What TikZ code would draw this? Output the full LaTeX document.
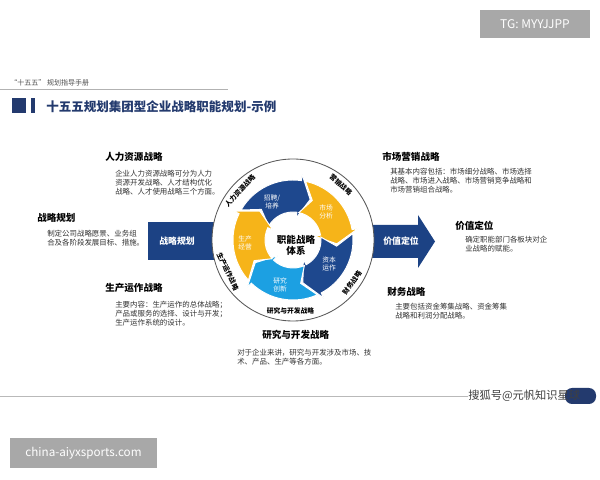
\documentclass[tikz,border=0pt]{standalone}
\usepackage{fontspec}
\setmainfont{Noto Sans CJK SC}
\definecolor{navy}{RGB}{28,66,132}
\definecolor{segblue}{RGB}{30,72,142}
\definecolor{segyellow}{RGB}{246,180,25}
\definecolor{seglight}{RGB}{28,160,226}
\definecolor{titleblue}{RGB}{35,58,110}
\definecolor{markgray}{RGB}{168,168,168}
\begin{document}
\begin{tikzpicture}[x=0.025cm, y=0.025cm,
  bodytxt/.style={anchor=north west, inner sep=0pt, align=left, text=black!80, font=\fontsize{5.3}{6.5}\selectfont},
  headtxt/.style={anchor=west, inner sep=0pt, font=\fontsize{6.8}{8}\selectfont\bfseries},
  ringtxt/.style={inner sep=0pt, font=\fontsize{4.8}{6}\selectfont\bfseries},
  segtxt/.style={inner sep=0pt, align=center, text=white, font=\fontsize{4.8}{5.8}\selectfont},
  blocktxt/.style={inner sep=0pt, text=white, font=\fontsize{6.3}{7}\selectfont\bfseries},
  markbox/.style={fill=markgray, text=white, inner sep=0pt}]
\useasboundingbox[fill=white] (0,0) rectangle (600,480);

\fill[markgray] (480,442) rectangle (590,470);
\node[markbox, font=\fontsize{8.5}{9}\selectfont] (tg) at (535,456) {TG: MYYJJPP};

\node[anchor=west, inner sep=0pt, text=black!70, font=\fontsize{5}{6}\selectfont] (hdr) at (10,397) {“十五五” 规划指导手册};
\draw[gray!60, line width=0.5pt] (0,391) -- (228,391);
\fill[titleblue] (12,367) rectangle (26,382);
\fill[titleblue] (31,367) rectangle (35,382);
\node[anchor=west, inner sep=0pt, text=titleblue, font=\fontsize{8.9}{10}\selectfont\bfseries] (title) at (46,373) {十五五规划集团型企业战略职能规划-示例};

\fill[navy] (148,220) rectangle (240,258);
\fill[navy] (350,222) -- (418,222) -- (418,212) -- (435,238.5) -- (418,265) -- (418,255) -- (350,255) -- cycle;
\node[blocktxt] (plan) at (177,239) {战略规划};
\node[blocktxt] (value) at (401,239) {价值定位};

\begin{scope}[shift={(293,240)}]
\draw[black!65, line width=0.6pt, fill=white] (0,0) circle[radius=81];
\foreach \c/\col in {114/segblue, 42/segyellow, -30/segblue, -102/seglight, -174/segyellow}
  \filldraw[fill=\col, draw=white, line width=0.7pt] (\c+36:60) arc[start angle=\c+36, end angle=\c-32, radius=60]
    -- (\c-32:66) -- (\c-47:44) -- (\c-32:22) -- (\c-32:28)
    arc[start angle=\c-32, end angle=\c+36, radius=28] -- (\c+22:44) -- cycle;
\node[segtxt] (hire) at (-21,38) {招聘/\\培养};
\node[segtxt] (mkt) at (33,28) {市场\\分析};
\node[segtxt] (cap) at (36,-24) {资本\\运作};
\node[segtxt] (rnd) at (-13,-45) {研究\\创新};
\node[segtxt] (prod) at (-48,-3) {生产\\经营};
\node[align=center, inner sep=0pt, font=\fontsize{6.8}{8}\selectfont\bfseries] (core) at (3,-5) {职能战略\\体系};
\node[ringtxt, rotate=47] (rhr) at (137:72.5) {人力资源战略};
\node[ringtxt, rotate=-41] (rmk) at (49:73) {营销战略};
\node[ringtxt, rotate=54] (rfn) at (-36:73) {财务战略};
\node[ringtxt] (rrd) at (-92:71) {研究与开发战略};
\node[ringtxt, rotate=-64] (rpr) at (206:72.5) {生产运作战略};
\end{scope}

\node[headtxt] (hrh) at (105,323) {人力资源战略};
\node[bodytxt] (hrb) at (115,310.5) {企业人力资源战略可分为人力\\资源开发战略、人才结构优化\\战略、人才使用战略三个方面。};
\node[headtxt] (mkh) at (382,323) {市场营销战略};
\node[bodytxt] (mkb) at (390,312.5) {其基本内容包括：市场细分战略、市场选择\\战略、市场进入战略、市场营销竞争战略和\\市场营销组合战略。};
\node[headtxt] (plh) at (37,262) {战略规划};
\node[bodytxt] (plb) at (47,250.5) {制定公司战略愿景、业务组\\合及各阶段发展目标、措施。};
\node[headtxt] (vah) at (455,254) {价值定位};
\node[bodytxt] (vab) at (465,244.5) {确定职能部门各板块对企\\业战略的赋能。};
\node[headtxt] (prh) at (105,192) {生产运作战略};
\node[bodytxt] (prb) at (115,179.5) {主要内容：生产运作的总体战略；\\产品或服务的选择、设计与开发；\\生产运作系统的设计。};
\node[headtxt] (fnh) at (387,188) {财务战略};
\node[bodytxt] (fnb) at (395,177.5) {主要包括资金筹集战略、资金筹集\\战略和利润分配战略。};
\node[headtxt] (rdh) at (262,145) {研究与开发战略};
\node[bodytxt] (rdb) at (237,131.5) {对于企业来讲，研究与开发涉及市场、技\\术、产品、生产等各方面。};

\draw[gray!55, line width=0.6pt] (0,84) -- (468,84);
\fill[titleblue, rounded corners=5pt] (565,76) rectangle (596,92);
\node[anchor=west, inner sep=0pt, text=black!75, font=\fontsize{8}{9}\selectfont] (sohu) at (468,84) {搜狐号@元帆知识星球};

\fill[markgray] (10,12) rectangle (157,42);
\node[markbox, font=\fontsize{8.3}{9}\selectfont] (site) at (83.5,27) {china-aiyxsports.com};
\end{tikzpicture}
\end{document}
